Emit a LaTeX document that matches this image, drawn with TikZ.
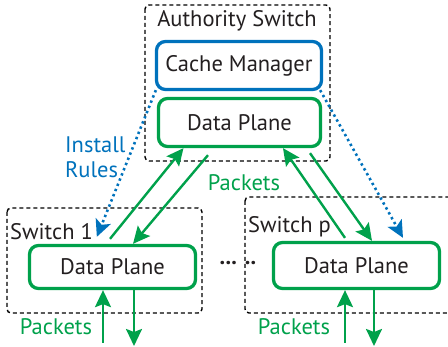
\documentclass[tikz,border=0pt]{standalone}
\usepackage{fontspec}
\setmainfont{PT Sans}
\usetikzlibrary{arrows.meta}

\definecolor{pktgreen}{RGB}{0,161,75}
\definecolor{ctlblue}{RGB}{0,114,188}
\definecolor{txtgray}{RGB}{35,31,32}

\tikzset{
    swbox/.style={draw=black, line width=1.4pt, dash pattern=on 4pt off 3pt, rounded corners=4pt},
    dpbox/.style={draw=pktgreen, line width=3.3pt, rounded corners=9pt, fill=white, text=txtgray},
    pkt/.style={-{Stealth[length=17pt,width=16pt,inset=3pt]}, draw=pktgreen, line width=2.4pt},
    rules/.style={-{Stealth[length=17pt,width=16pt,inset=4pt]}, draw=ctlblue, line width=2.6pt, dash pattern=on 2.4pt off 3.2pt},
    lbl/.style={text=txtgray, inner sep=0pt}
}

\begin{document}
\begin{tikzpicture}[x=1pt, y=-1pt, font=\fontsize{22.5}{25}\selectfont]
    \useasboundingbox (0,0) rectangle (448,347);
    \clip (0,0) rectangle (448,347);

    % switch outlines
    \draw[swbox] (145,5) rectangle (330,161);
    \draw[swbox] (7,208) rectangle (202,313);
    \draw[swbox] (245,197) rectangle (460,313);

    \node[lbl] (authLbl) at (237,21) {Authority Switch};
    \node[lbl, anchor=west] (swOneLbl) at (10,232) {Switch 1};
    \node[lbl, anchor=west] (swPLbl) at (248,227) {Switch p};

    % boxes
    \node[dpbox, draw=ctlblue, minimum width=165pt, minimum height=48pt] (cache) at (239,65.5) {Cache Manager};
    \node[dpbox, minimum width=162pt, minimum height=48pt] (dpTop) at (239.5,122.5) {Data Plane};
    \node[dpbox, minimum width=166pt, minimum height=43pt] (dpOne) at (112.5,267) {Data Plane};
    \node[dpbox, minimum width=166pt, minimum height=46pt] (dpP) at (356.5,265.5) {Data Plane};

    \node[lbl] (dots) at (238,263) {\textbf{...}\hspace{8pt}\textbf{..}};

    % rule installation
    \draw[rules] ([shift={(1,-1)}]cache.south west) -- ([shift={(69,-7)}]dpOne.north west);
    \draw[rules] ([shift={(-3,-1)}]cache.south east) -- ([shift={(46.5,-3)}]dpP.north);
    \node[lbl, text=ctlblue, align=left, anchor=north west] (install) at (65,137) {Install\\Rules};

    % packets between switches
    \draw[pkt] ([shift={(-2.5,-5)}]dpOne.north) -- ([xshift=-56]dpTop.south);
    \draw[pkt] ([shift={(-31.5,7)}]dpTop.south) -- ([xshift=20.5]dpOne.north);
    \draw[pkt] ([shift={(-11.5,-3)}]dpP.north) -- ([xshift=43.5]dpTop.south);
    \draw[pkt] ([shift={(70.5,5)}]dpTop.south) -- ([xshift=15.5]dpP.north);
    \node[lbl, text=pktgreen] (pktMid) at (244,183) {Packets};

    % packets in and out
    \coordinate (inOne) at (103,343);
    \coordinate (outOne) at (134,346);
    \coordinate (inP) at (345,343);
    \coordinate (outP) at (374,346);
    \draw[pkt] (inOne) -- (inOne |- dpOne.south);
    \draw[pkt] (outOne |- dpOne.south) -- (outOne);
    \draw[pkt] (inP) -- (inP |- dpP.south);
    \draw[pkt] (outP |- dpP.south) -- (outP);
    \node[lbl, text=pktgreen] (pktOne) at (56,327) {Packets};
    \node[lbl, text=pktgreen] (pktP) at (294,327) {Packets};
\end{tikzpicture}
\end{document}
